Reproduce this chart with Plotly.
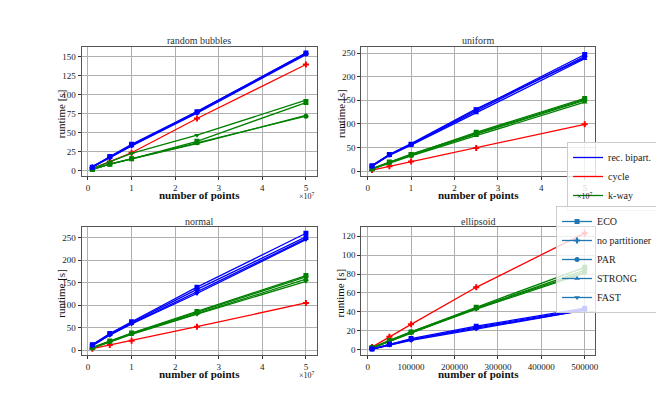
import plotly.graph_objects as go
from plotly.subplots import make_subplots

# problem sizes
n_big = [1e6, 5e6, 1e7, 2.5e7, 5e7]
n_ell = [10000, 50000, 100000, 250000, 500000]

variants = ["ECO", "PAR", "STRONG", "FAST"]
symbols = {"ECO": "square", "no partitioner": "cross", "PAR": "circle",
           "STRONG": "triangle-up", "FAST": "triangle-down"}

# runtimes [s]
bubbles_rec = {"ECO": [5, 19, 35, 78, 155], "PAR": [5, 18, 34, 77, 154],
               "STRONG": [6, 18, 33, 78, 155], "FAST": [5, 17, 33, 76, 153]}
bubbles_cycle = [3, 12, 24, 69, 140]
bubbles_kway = {"ECO": [2, 9, 16, 39, 90], "PAR": [2, 9, 16, 37, 72],
                "STRONG": [2, 9, 16, 36, 73], "FAST": [3, 12, 23, 47, 93]}

uniform_rec = {"ECO": [11, 35, 57, 130, 247], "PAR": [10, 34, 56, 127, 243],
               "STRONG": [10, 33, 55, 123, 238], "FAST": [12, 35, 58, 132, 240]}
uniform_cycle = [2, 10, 20, 49, 99]
uniform_kway = {"ECO": [5, 19, 35, 82, 154], "PAR": [4, 18, 33, 78, 150],
                "STRONG": [4, 17, 32, 75, 146], "FAST": [5, 19, 36, 80, 152]}

normal_rec = {"ECO": [12, 37, 63, 140, 260], "PAR": [11, 35, 61, 135, 252],
              "STRONG": [10, 34, 59, 130, 248], "FAST": [10, 33, 58, 126, 246]}
normal_cycle = [3, 11, 21, 52, 105]
normal_kway = {"ECO": [6, 20, 38, 86, 166], "PAR": [5, 19, 37, 84, 163],
               "STRONG": [5, 18, 36, 81, 158], "FAST": [4, 18, 35, 80, 153]}

ellipsoid_rec = {"ECO": [1, 6, 12, 25, 44], "PAR": [1, 6, 11, 24, 43],
                 "STRONG": [1, 5, 11, 23, 42], "FAST": [1, 5, 10, 22, 42]}
ellipsoid_cycle = [3, 14, 27, 66, 123]
ellipsoid_kway = {"ECO": [2.5, 10, 19, 45, 87], "PAR": [2, 10, 19, 44, 84],
                  "STRONG": [2, 9, 18, 44, 82], "FAST": [2, 9, 18, 43, 81]}

panels = [
    ("random bubbles", n_big, bubbles_rec, bubbles_cycle, bubbles_kway, 1, 1),
    ("uniform", n_big, uniform_rec, uniform_cycle, uniform_kway, 1, 2),
    ("normal", n_big, normal_rec, normal_cycle, normal_kway, 2, 1),
    ("ellipsoid", n_ell, ellipsoid_rec, ellipsoid_cycle, ellipsoid_kway, 2, 2),
]

BLUE, RED, GREEN = "#0000ff", "#ff0000", "#008000"
SERIF = "Liberation Serif"
W, H = 664, 399
OFF = 8  # page body margin: the plot div starts 8px in from the window edge

fig = make_subplots(rows=2, cols=2)

for title, xs, rec, cyc, kway, r, c in panels:
    fig.add_trace(go.Scatter(x=xs, y=cyc, mode="lines+markers", showlegend=False,
                             line=dict(color=RED, width=1.3),
                             marker=dict(symbol=symbols["no partitioner"], size=5, color=RED)),
                  row=r, col=c)
    for v in variants:
        fig.add_trace(go.Scatter(x=xs, y=kway[v], mode="lines+markers", showlegend=False,
                                 line=dict(color=GREEN, width=1.3),
                                 marker=dict(symbol=symbols[v], size=5, color=GREEN)),
                      row=r, col=c)
    for v in variants:
        fig.add_trace(go.Scatter(x=xs, y=rec[v], mode="lines+markers", showlegend=False,
                                 line=dict(color=BLUE, width=1.3),
                                 marker=dict(symbol=symbols[v], size=5, color=BLUE)),
                      row=r, col=c)

# legend entries
for name, col in [("rec. bipart.", BLUE), ("cycle", RED), ("k-way", GREEN)]:
    fig.add_trace(go.Scatter(x=[None], y=[None], mode="lines", name=name,
                             line=dict(color=col, width=1.3), legend="legend"), row=1, col=1)
for name in ["ECO", "no partitioner", "PAR", "STRONG", "FAST"]:
    fig.add_trace(go.Scatter(x=[None], y=[None], mode="lines+markers", name=name,
                             line=dict(color="#1f77b4", width=1.3),
                             marker=dict(symbol=symbols[name], size=5, color="#1f77b4"),
                             legend="legend2"), row=1, col=1)


def px(v):
    return (v - OFF) / W


def py(v):
    return 1 - (v - OFF) / H


# pixel layout (window pixels of the matplotlib figure)
xdom = {1: (82, 318), 2: (363, 598)}
ydom = {1: (47, 176), 2: (227, 355)}
yranges = {(1, 1): [-6.6, 163], (1, 2): [-10.6, 263], (2, 1): [-11, 274], (2, 2): [-5.3, 129.5]}
yticks = {(1, 1): list(range(0, 151, 25)), (1, 2): list(range(0, 251, 50)),
          (2, 1): list(range(0, 251, 50)), (2, 2): list(range(0, 121, 20))}

axis_common = dict(showgrid=True, gridcolor="#b0b0b0", gridwidth=0.8, zeroline=False,
                   showline=True, linecolor="#555555", linewidth=1, mirror=True,
                   ticks="outside", ticklen=3, tickcolor="#333333",
                   tickfont=dict(family=SERIF, size=9, color="#222222"))

annotations = []
for i, (title, xs, rec, cyc, kway, r, c) in enumerate(panels):
    idx = "" if i == 0 else str(i + 1)
    x0, x1 = xdom[c]
    y0, y1 = ydom[r]
    if xs is n_big:
        xr = [-0.145e7, 5.245e7]
        xt = dict(tickvals=[k * 1e7 for k in range(6)], ticktext=[str(k) for k in range(6)])
    else:
        xr = [-14500, 524500]
        xt = dict(tickvals=list(range(0, 500001, 100000)),
                  ticktext=[str(v) for v in range(0, 500001, 100000)])
    fig.layout["xaxis" + idx].update(domain=[px(x0), px(x1)], range=xr, **xt, **axis_common)
    fig.layout["yaxis" + idx].update(domain=[py(y1), py(y0)], range=yranges[(r, c)],
                                     tickvals=yticks[(r, c)], **axis_common)
    cx = px((x0 + x1) / 2)
    annotations.append(dict(text=title, x=cx, y=py(y0 - 6), xref="paper", yref="paper",
                            xanchor="center", yanchor="middle", showarrow=False,
                            font=dict(family=SERIF, size=10, color="#333333")))
    annotations.append(dict(text="<b>number of points</b>", x=cx, y=py(y1 + 19),
                            xref="paper", yref="paper", xanchor="center", yanchor="middle",
                            showarrow=False, font=dict(family=SERIF, size=11, color="#111111")))
    annotations.append(dict(text="runtime [s]", x=px(x0 - 21), y=py((y0 + y1) / 2 + 2),
                            xref="paper", yref="paper", xanchor="center", yanchor="middle",
                            showarrow=False, textangle=-90,
                            font=dict(family=SERIF, size=11, color="#111111")))
    if xs is n_big:
        annotations.append(dict(text="×10<sup>7</sup>", x=px(x1), y=py(y1 + 20),
                                xref="paper", yref="paper", xanchor="right", yanchor="middle",
                                showarrow=False,
                                font=dict(family=SERIF, size=8, color="#222222")))

legend_common = dict(xanchor="right", x=px(661), yanchor="top",
                     bgcolor="rgba(255,255,255,0.8)", bordercolor="#cccccc", borderwidth=1,
                     font=dict(family=SERIF, size=10, color="#222222"),
                     itemwidth=30, tracegroupgap=0)

fig.update_layout(
    width=W, height=H, margin=dict(l=0, r=0, t=0, b=0),
    paper_bgcolor="white", plot_bgcolor="white",
    annotations=annotations,
    legend=dict(y=py(142), **legend_common),
    legend2=dict(y=py(206), **legend_common),
)

fig.write_html("out.html")
